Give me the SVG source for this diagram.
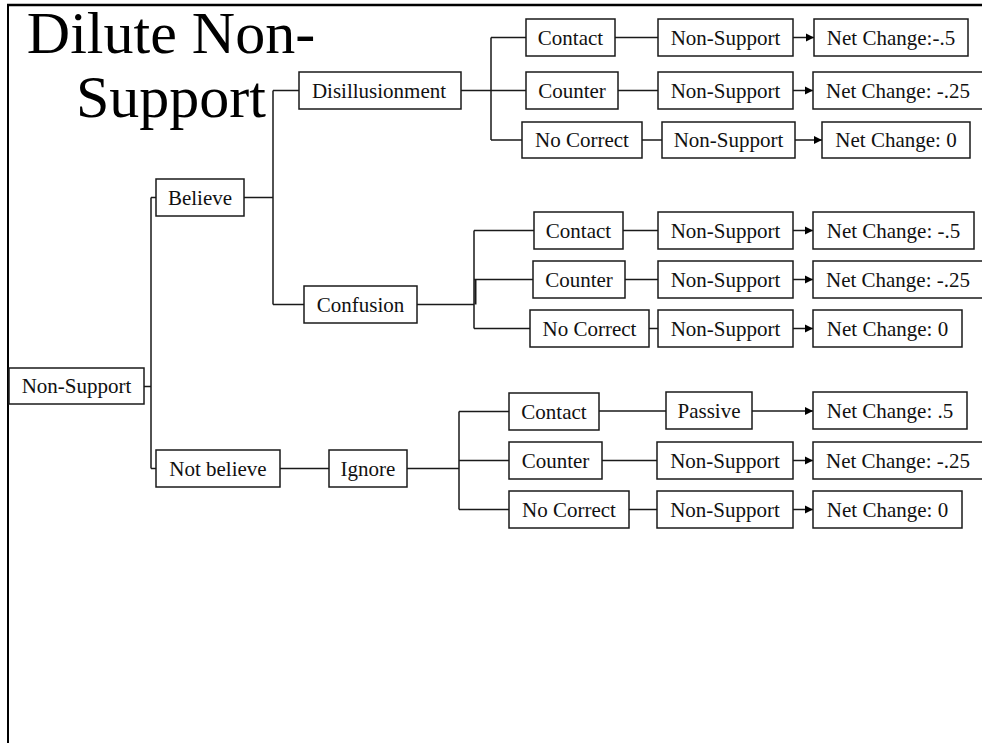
<svg xmlns="http://www.w3.org/2000/svg" width="982" height="743" viewBox="0 0 982 743">
  <style>
    .box rect { fill: #ffffff; stroke: #1a1a1a; stroke-width: 1.5; }
    .box text { font-family: "Liberation Serif", "Times New Roman", serif; font-size: 21px; fill: #111; text-anchor: middle; }
    .title { font-family: "Liberation Serif", "Times New Roman", serif; font-size: 60px; fill: #000; text-anchor: middle; }
    .wire { fill: none; stroke: #1a1a1a; stroke-width: 1.5; }
    .frame { stroke: #000; fill: none; }
  </style>
  <defs>
    <marker id="arrow" markerUnits="userSpaceOnUse" markerWidth="9" markerHeight="9" refX="8" refY="4.5" orient="auto">
      <path d="M0,0.5 L8,4.5 L0,8.5 Z" fill="#000"/>
    </marker>
  </defs>

  <rect width="982" height="743" fill="#ffffff"/>

  <!-- page frame -->
  <line class="frame" x1="7" y1="5" x2="982" y2="5" stroke-width="2.5"/>
  <line class="frame" x1="8" y1="5" x2="8" y2="743" stroke-width="2"/>

  <!-- heading -->
  <text class="title" x="171" y="53">Dilute Non-</text>
  <text class="title" x="171" y="117">Support</text>

  <!-- connectors -->
  <g id="connectors" class="wire">
    <!-- root split -->
    <path d="M144,386.5 H151 M151,197.5 V468.5 M151,197.5 H156 M151,468.5 H156"/>
    <!-- Believe split -->
    <path d="M244,197.5 H273 M273,90.5 V304.5 M273,90.5 H299 M273,304.5 H304"/>
    <!-- Disillusionment split -->
    <path d="M461,90.5 H491 M491,37.5 V140 M491,37.5 H526 M491,90.5 H526 M491,140 H522"/>
    <!-- Confusion split -->
    <path d="M417,304.5 H474 M474,230.5 V328.5 M474,230.5 H534 M474,279.5 H533 M474,328.5 H530"/>
    <path d="M475.5,280 V304.5" stroke-width="2"/>
    <!-- Not believe / Ignore split -->
    <path d="M280,468.5 H329 M407,468.5 H459 M459,411.5 V509.5 M459,411.5 H509 M459,460.5 H509 M459,509.5 H509"/>
    <!-- response links -->
    <path d="M615,37.5 H658 M618,90.5 H658 M642,140 H662"/>
    <path d="M623,230.5 H658 M625,279.5 H658 M649,328.5 H658"/>
    <path d="M599,411 H666 M602,460.5 H657 M629,509.5 H657"/>
    <!-- outcome arrows -->
    <g marker-end="url(#arrow)">
      <path d="M793,37.5 H814"/>
      <path d="M793,90.5 H813"/>
      <path d="M795,140 H822"/>
      <path d="M793,230.5 H813"/>
      <path d="M793,279.5 H813"/>
      <path d="M793,328.5 H813"/>
      <path d="M752,411 H813"/>
      <path d="M793,460.5 H813"/>
      <path d="M793,509.5 H813"/>
    </g>
  </g>

  <!-- nodes -->
  <g id="root" class="box"><rect x="9" y="368" width="135" height="36"/><text x="76.5" y="393">Non-Support</text></g>
  <g id="believe" class="box"><rect x="156" y="179" width="88" height="37"/><text x="200" y="204.5">Believe</text></g>
  <g id="not-believe" class="box"><rect x="156" y="450" width="124" height="37"/><text x="218" y="475.5">Not believe</text></g>
  <g id="disillusionment" class="box"><rect x="299" y="72" width="162" height="37"/><text x="379" y="97.5">Disillusionment</text></g>
  <g id="confusion" class="box"><rect x="304" y="286" width="113" height="37"/><text x="360.5" y="311.5">Confusion</text></g>
  <g id="ignore" class="box"><rect x="329" y="450" width="78" height="37"/><text x="368" y="475.5">Ignore</text></g>

  <!-- Disillusionment branch -->
  <g id="d-contact" class="box"><rect x="526" y="19" width="89" height="37"/><text x="570.5" y="44.5">Contact</text></g>
  <g id="d-counter" class="box"><rect x="526" y="72" width="92" height="37"/><text x="572" y="97.5">Counter</text></g>
  <g id="d-nocorrect" class="box"><rect x="522" y="122" width="120" height="36"/><text x="582" y="147">No Correct</text></g>
  <g id="d-contact-ns" class="box"><rect x="658" y="19" width="135" height="37"/><text x="725.5" y="44.5">Non-Support</text></g>
  <g id="d-counter-ns" class="box"><rect x="658" y="72" width="135" height="37"/><text x="725.5" y="97.5">Non-Support</text></g>
  <g id="d-nocorrect-ns" class="box"><rect x="662" y="122" width="133" height="36"/><text x="728.5" y="147">Non-Support</text></g>
  <g id="d-contact-net" class="box"><rect x="814" y="19" width="154" height="37"/><text x="891" y="44.5">Net Change:-.5</text></g>
  <g id="d-counter-net" class="box"><rect x="813" y="72" width="175" height="37"/><text x="898" y="97.5">Net Change: -.25</text></g>
  <g id="d-nocorrect-net" class="box"><rect x="822" y="122" width="148" height="36"/><text x="896" y="147">Net Change: 0</text></g>

  <!-- Confusion branch -->
  <g id="c-contact" class="box"><rect x="534" y="212" width="89" height="37"/><text x="578.5" y="237.5">Contact</text></g>
  <g id="c-counter" class="box"><rect x="533" y="261" width="92" height="37"/><text x="579" y="286.5">Counter</text></g>
  <g id="c-nocorrect" class="box"><rect x="530" y="310" width="119" height="37"/><text x="589.5" y="335.5">No Correct</text></g>
  <g id="c-contact-ns" class="box"><rect x="658" y="212" width="135" height="37"/><text x="725.5" y="237.5">Non-Support</text></g>
  <g id="c-counter-ns" class="box"><rect x="658" y="261" width="135" height="37"/><text x="725.5" y="286.5">Non-Support</text></g>
  <g id="c-nocorrect-ns" class="box"><rect x="658" y="310" width="135" height="37"/><text x="725.5" y="335.5">Non-Support</text></g>
  <g id="c-contact-net" class="box"><rect x="813" y="212" width="161" height="37"/><text x="893.5" y="237.5">Net Change: -.5</text></g>
  <g id="c-counter-net" class="box"><rect x="813" y="261" width="175" height="37"/><text x="898" y="286.5">Net Change: -.25</text></g>
  <g id="c-nocorrect-net" class="box"><rect x="813" y="310" width="149" height="37"/><text x="887.5" y="335.5">Net Change: 0</text></g>

  <!-- Ignore branch -->
  <g id="i-contact" class="box"><rect x="509" y="393" width="90" height="37"/><text x="554" y="418.5">Contact</text></g>
  <g id="i-counter" class="box"><rect x="509" y="442" width="93" height="37"/><text x="555.5" y="467.5">Counter</text></g>
  <g id="i-nocorrect" class="box"><rect x="509" y="491" width="120" height="37"/><text x="569" y="516.5">No Correct</text></g>
  <g id="i-contact-passive" class="box"><rect x="666" y="392" width="86" height="37"/><text x="709" y="417.5">Passive</text></g>
  <g id="i-counter-ns" class="box"><rect x="657" y="442" width="136" height="37"/><text x="725" y="467.5">Non-Support</text></g>
  <g id="i-nocorrect-ns" class="box"><rect x="657" y="491" width="136" height="37"/><text x="725" y="516.5">Non-Support</text></g>
  <g id="i-contact-net" class="box"><rect x="813" y="392" width="154" height="37"/><text x="890" y="417.5">Net Change: .5</text></g>
  <g id="i-counter-net" class="box"><rect x="813" y="442" width="175" height="37"/><text x="898" y="467.5">Net Change: -.25</text></g>
  <g id="i-nocorrect-net" class="box"><rect x="813" y="491" width="149" height="37"/><text x="887.5" y="516.5">Net Change: 0</text></g>
</svg>
